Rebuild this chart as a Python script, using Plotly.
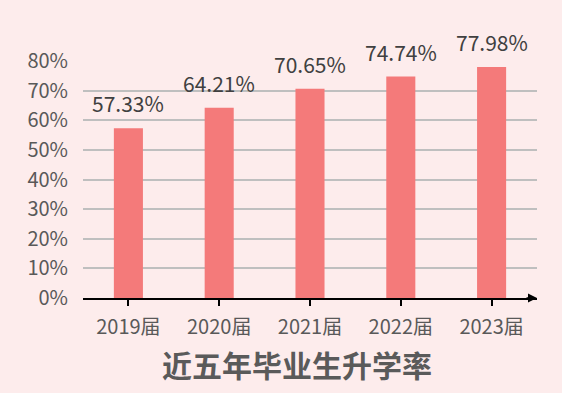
import plotly.graph_objects as go

categories = ["2019届", "2020届", "2021届", "2022届", "2023届"]
rates = [57.33, 64.21, 70.65, 74.74, 77.98]
y_ticks = [0, 10, 20, 30, 40, 50, 60, 70, 80]
y_tick_labels = [f"{v}%" for v in y_ticks]
title = "近五年毕业生升学率"

font_family = "Noto Sans CJK SC, Noto Sans, sans-serif"
bg = "#FDECEC"

fig = go.Figure()
fig.add_trace(go.Bar(
    x=categories, y=rates,
    marker=dict(color="#F47A7A", line=dict(width=0)),
    width=0.32,
    hoverinfo="skip",
))

for c, v in zip(categories, rates):
    fig.add_annotation(x=c, y=v, xref="x", yref="y", text=f"{v:.2f}%",
                       showarrow=False, yanchor="middle", yshift=25,
                       font=dict(size=21, color="#404040", family=font_family))

# arrow at end of x axis
fig.add_annotation(x=1, y=0, xref="paper", yref="y", ax=-12, ay=0,
                   axref="pixel", ayref="pixel", text="", showarrow=True,
                   arrowhead=2, arrowsize=1.2, arrowwidth=1.5, arrowcolor="black")

fig.add_annotation(x=0.472, y=-0.28, xref="paper", yref="paper", text=f"<b>{title}</b>",
                   showarrow=False, yanchor="middle",
                   font=dict(size=30, color="#5a5a5a", family=font_family))

fig.update_layout(
    width=562, height=393,
    margin=dict(l=83, r=25, t=61, b=95),
    paper_bgcolor=bg, plot_bgcolor=bg,
    showlegend=False,
    font=dict(family=font_family),
    xaxis=dict(
        showline=True, linecolor="black", linewidth=1.5,
        ticks="outside", ticklen=6, tickcolor="black", tickwidth=1.5,
        tickfont=dict(size=20, color="#595959"),
        ticklabelstandoff=4,
        showgrid=False, fixedrange=True,
    ),
    yaxis=dict(
        range=[0, 80], tickvals=y_ticks, ticktext=y_tick_labels,
        showgrid=True, gridcolor="#BFBFBF", gridwidth=1.5,
        zeroline=False, showline=False,
        tickfont=dict(size=20, color="#595959"),
        ticklabelstandoff=14,
        fixedrange=True,
    ),
)

fig.write_html("out.html", config={"displayModeBar": False},
               post_script="document.body.style.margin='0';document.body.style.background='" + bg + "';")
